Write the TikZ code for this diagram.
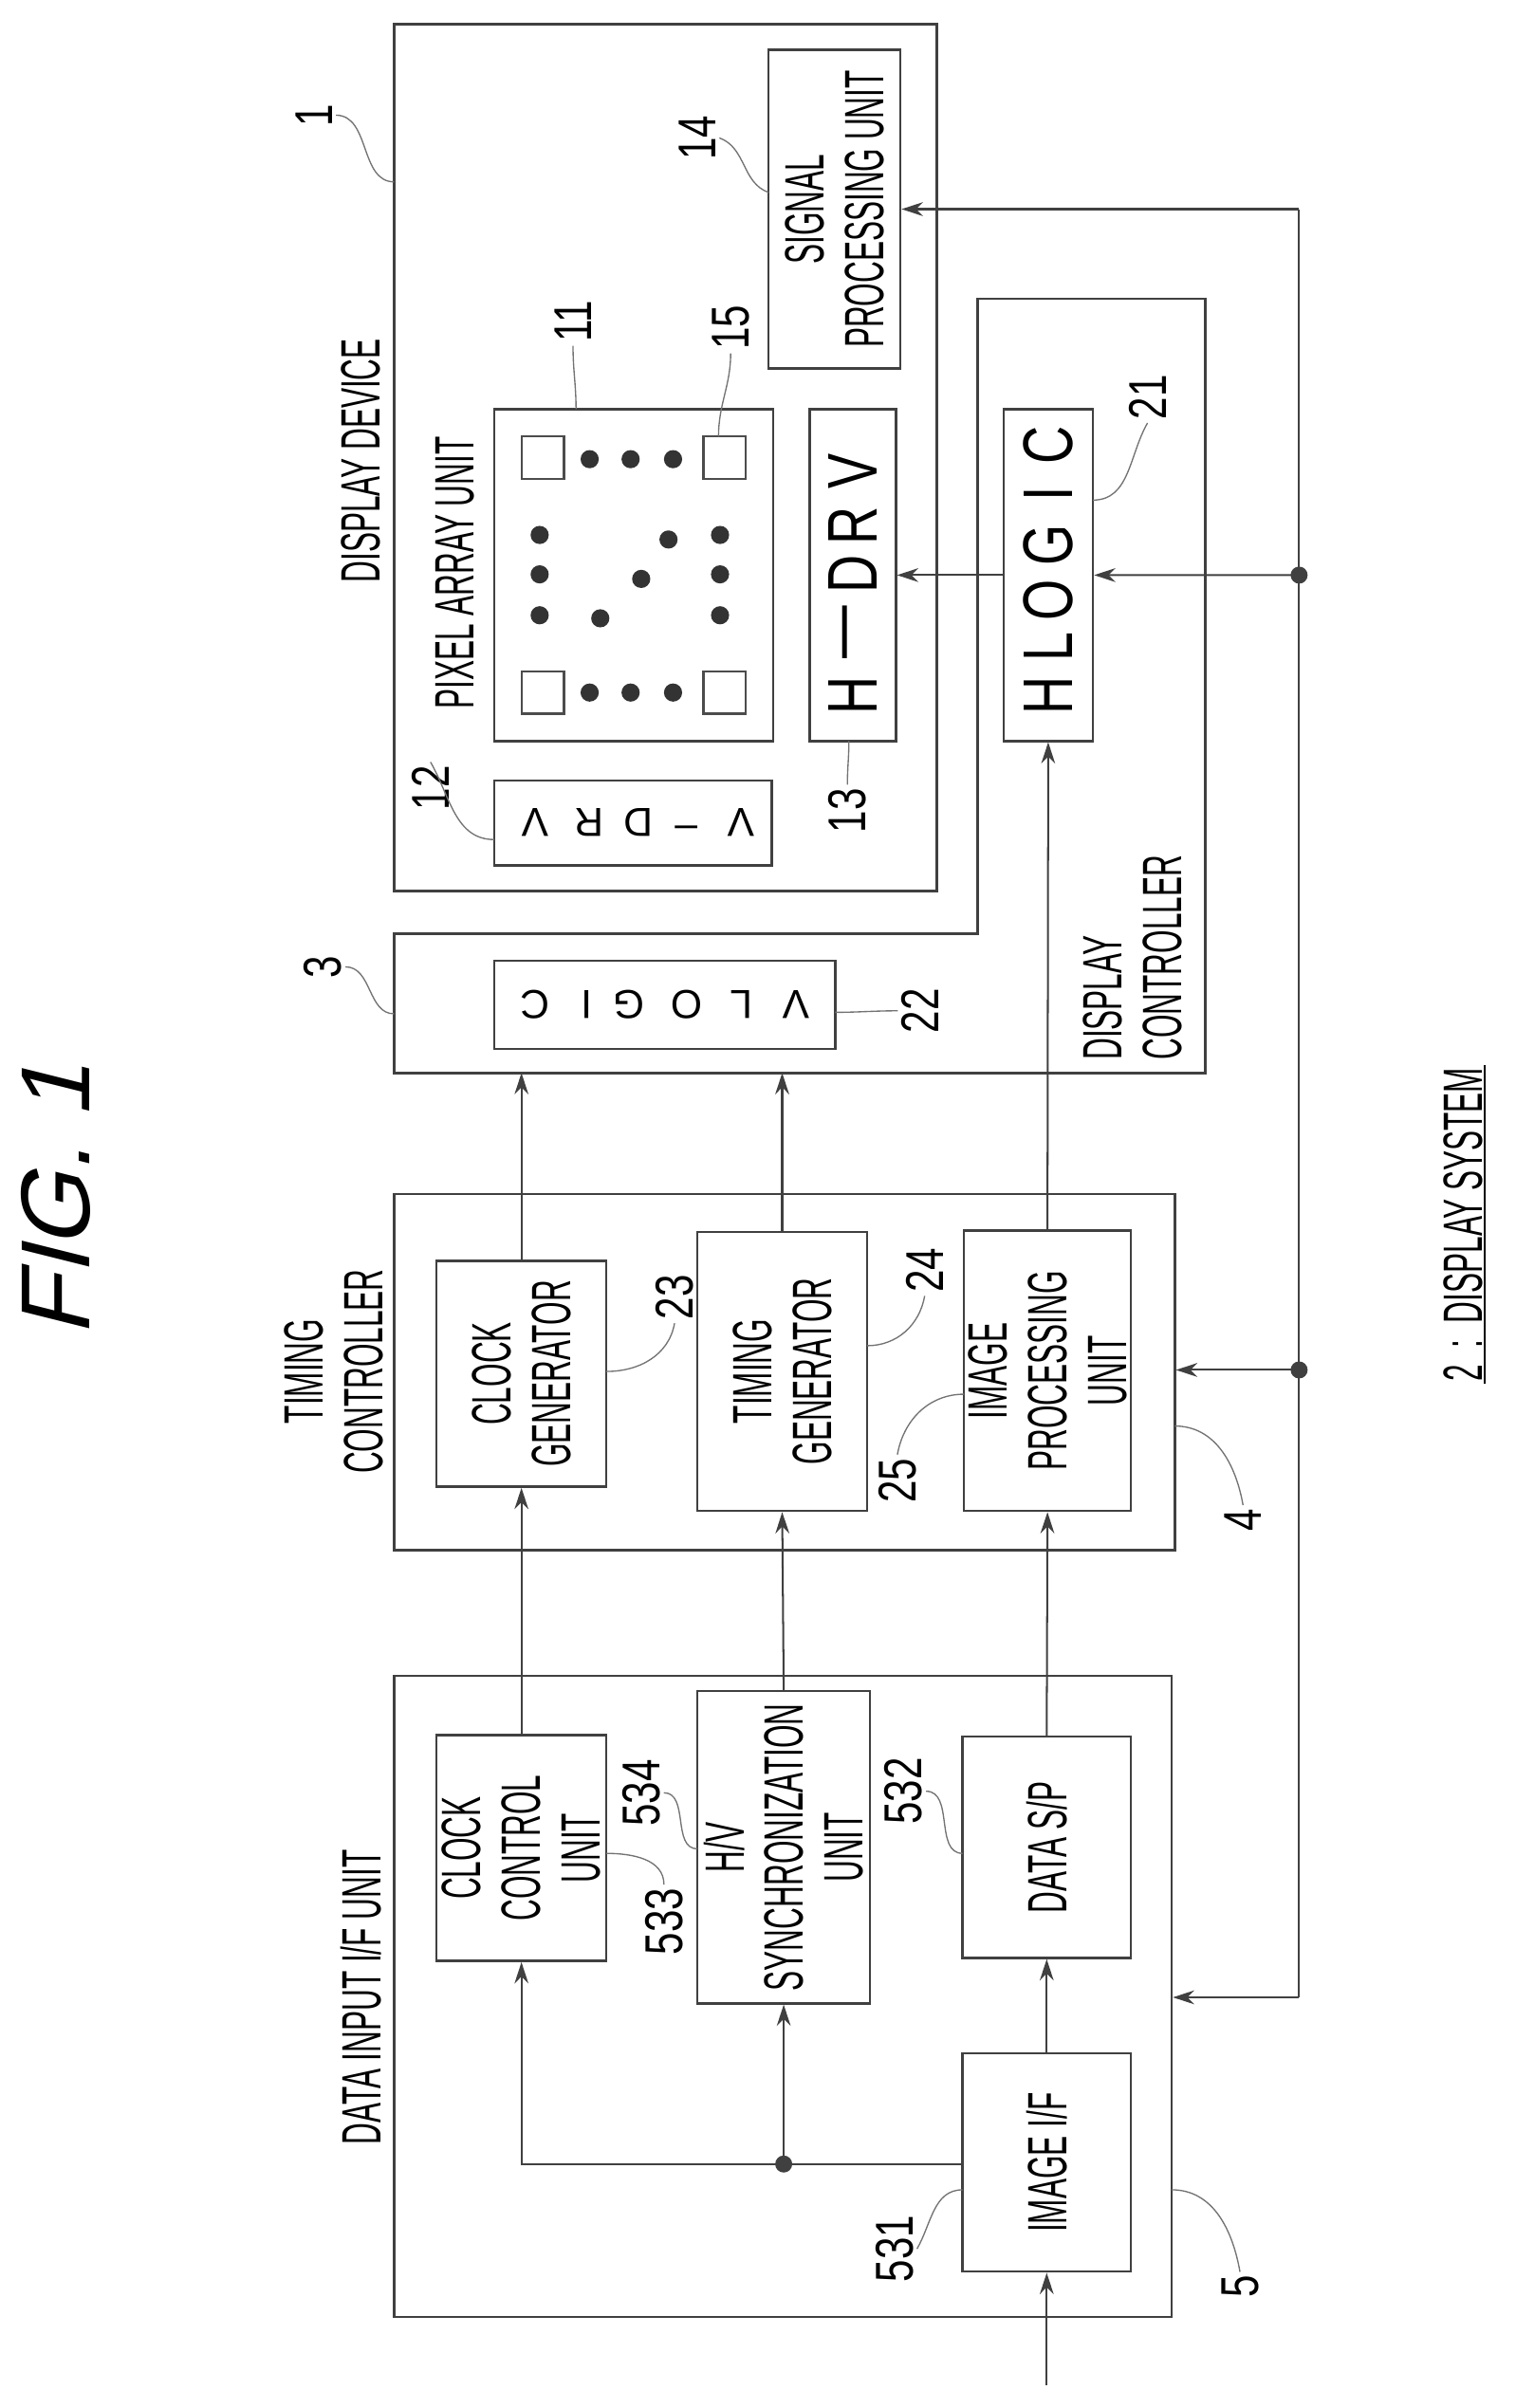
\documentclass[tikz,border=0pt]{standalone}
\usepackage{fontspec}
\setmainfont{Liberation Sans}[FakeStretch=0.54]
\newfontfamily\widef{Liberation Sans}[FakeStretch=0.75]
\newfontfamily\plainf{Liberation Sans}
\newfontfamily\figf{Liberation Sans}[FakeSlant=0.25]
\usetikzlibrary{fit,arrows.meta}
\begin{document}
\begin{tikzpicture}[x=0.05cm,y=-0.05cm,
  box/.style={draw=black!75, line width=2.2pt, inner sep=0pt},
  txt/.style={rotate=90, font=\fontsize{52}{56}\selectfont, align=center},
  lbl/.style={rotate=90, font=\widef\fontsize{50}{56}\selectfont},
  big/.style={font=\widef\fontsize{66}{70}\selectfont},
  mid/.style={font=\plainf\fontsize{38}{44}\selectfont},
  arr/.style={line width=1.8pt, draw=black!75, -{Stealth[length=20pt,width=13pt]}},
  ln/.style={line width=1.8pt, draw=black!75},
  lead/.style={draw=black!55, line width=1.2pt},
  dot/.style={circle, fill=black!75, inner sep=0pt, minimum size=16pt},
  pd/.style={circle, fill=black!80, inner sep=0pt, minimum size=0.6cm},
  sq/.style={draw=black!70, line width=2pt, inner sep=0pt, minimum size=1.4cm}]
\useasboundingbox (0,0) rectangle (1000,1589);
% outer boxes
\node[box, fit={(260,16)(618,588)}] (dd) {};
\node[box, fit={(260,788)(775,1023)}] (tc) {};
\node[box, fit={(260,1106)(773,1529)}] (di) {};
\draw[draw=black!75, line width=2.2pt] (260,616) -- (645,616) -- (645,197) -- (795,197) -- (795,708) -- (260,708) -- cycle;
\coordinate (dcbot) at (500,708);
% inner boxes
\node[box, fit={(507,33)(594,243)}] (spu) {};
\node[txt] at (spu) {SIGNAL\\PROCESSING UNIT};
\node[box, fit={(326,270)(510,489)}] (pa) {};
\node[box, fit={(326,515)(509,571)}] (vdrv) {};
\node[box, fit={(534,270)(591,489)}] (hdrv) {};
\node[box, fit={(662,270)(721,489)}] (hlogic) {};
\node[box, fit={(326,634)(551,692)}] (vlogic) {};
\node[box, fit={(288,832)(400,981)}] (cg) {};
\node[txt] at (cg) {CLOCK\\GENERATOR};
\node[box, fit={(460,813)(572,997)}] (tg) {};
\node[txt] at (tg) {TIMING\\GENERATOR};
\node[box, fit={(636,812)(746,997)}] (ipu) {};
\node[txt] at (ipu) {IMAGE\\PROCESSING\\UNIT};
\node[box, fit={(288,1145)(400,1294)}] (ccu) {};
\node[txt] at (ccu) {CLOCK\\CONTROL\\UNIT};
\node[box, fit={(460,1116)(574,1322)}] (hv) {};
\node[txt] at (hv) {H/V\\SYNCHRONIZATION\\UNIT};
\node[box, fit={(635,1146)(746,1292)}] (dsp) {};
\node[txt] at (dsp) {DATA S/P};
\node[box, fit={(635,1355)(746,1499)}] (img) {};
\node[txt] at (img) {IMAGE I/F};
% spaced letters
\foreach \c/\yy in {H/459,{\textemdash}/417,D/379,R/347,V/311} \node[big,rotate=90] at (562.5,\yy) {\c};
\foreach \c/\yy in {H/459,L/427,O/396,G/360,I/326,C/294} \node[big,rotate=90] at (691.5,\yy) {\c};
\foreach \c/\xx in {V/489,{\textendash}/453,D/421,R/389,V/353} \node[mid,rotate=180] at (\xx,543) {\c};
\foreach \c/\xx in {V/525,L/489,O/453,G/415,I/387,C/353} \node[mid,rotate=180] at (\xx,663) {\c};
% pixel array content
\foreach \p in {(358,302),(478,302),(358,457),(478,457)} \node[sq] at \p {};
\foreach \p in {(389,303),(416,303),(444,303),(389,457),(416,457),(444,457),
  (356,353),(356,379),(356,406),(475,353),(475,379),(475,406),(396,408),(423,382),(441,356)}
  \node[pd] at \p {};
% connectors
\coordinate (in) at (690.5,1574);
\draw[arr] (in) -- (img.south);
\draw[arr] (img.north) -- (dsp.south);
\coordinate (j1) at (517,1428);
\draw[ln] (j1 -| img.west) -- (j1);
\draw[arr] (j1) -- (hv.south);
\draw[arr] (j1) -| (ccu.south);
\draw[arr] (ccu.north) -- (cg.south);
\draw[arr] (hv.north) -- (tg.south);
\draw[arr] (dsp.north) -- (ipu.south);
\draw[arr] (cg.north) -- (cg.north |- dcbot);
\draw[arr] (tg.north) -- (tg.north |- dcbot);
\draw[arr] (ipu.north) -- (hlogic.south);
\draw[arr] (hlogic.west) -- (hdrv.east);
\coordinate (bt) at (857,138);
\coordinate (bb) at (857,1318);
\coordinate (jh) at (857,379.5);
\coordinate (jt) at (857,904);
\draw[arr] (bt) -- (spu.east |- bt);
\draw[ln] (bt) -- (bb);
\draw[arr] (bb) -- (di.east |- bb);
\draw[arr] (jh) -- (hlogic.east);
\draw[arr] (jt) -- (tc.east |- jt);
\node[dot] at (j1) {};
\node[dot] at (jh) {};
\node[dot] at (jt) {};
% titles
\node[font=\figf\fontsize{92}{96}\selectfont, rotate=90] (fig) at (37,792) {FIG. 1};
\node[txt] (tdd) at (238,304) {DISPLAY DEVICE};
\node[txt] (tpa) at (300,378) {PIXEL ARRAY UNIT};
\node[txt] (ttc) at (220,905) {TIMING\\CONTROLLER};
\node[txt, align=left] (tdc) at (747,632) {DISPLAY\\CONTROLLER};
\node[txt] (tdi) at (238,1318) {DATA INPUT I/F UNIT};
\node[txt, inner sep=2pt] (tds) at (965,808) {2\ \ :\ \ DISPLAY SYSTEM};
\draw[line width=1.5pt] (tds.south west) -- (tds.south east);
% reference labels and leaders
\node[lbl] (l1) at (207,76) {1};
\coordinate (e1) at (260,120); \draw[lead] (l1.south) to[out=0,in=180] (e1);
\node[lbl] (l3) at (213,638) {3};
\coordinate (e3) at (260,669); \draw[lead] (l3.south) to[out=0,in=180] (e3);
\node[lbl] (l14) at (460,91) {14};
\coordinate (e14) at (507,127); \draw[lead] (l14.south) to[out=-20,in=160] (e14);
\node[lbl] (l11) at (378,212) {11};
\coordinate (e11) at (380,270); \draw[lead] (l11.west) to[out=-90,in=90] (e11);
\node[lbl] (l15) at (482,216) {15};
\coordinate (e15) at (474,288); \draw[lead] (l15.west) to[out=-90,in=90] (e15);
\node[lbl] (l12) at (284,520) {12};
\coordinate (e12) at (326,554); \draw[lead] (l12.east) to[out=-60,in=180] (e12);
\node[lbl] (l13) at (559,535) {13};
\coordinate (e13) at (560,489); \draw[lead] (l13.east) to[out=90,in=-90] (e13);
\node[lbl] (l21) at (757,262) {21};
\coordinate (e21) at (721,330); \draw[lead] (l21.west) to[out=-120,in=0] (e21);
\node[lbl] (l22) at (607,667) {22};
\coordinate (e22) at (551,668); \draw[lead] (l22.north) to[out=180,in=0] (e22);
\node[lbl] (l23) at (445,856) {23};
\coordinate (e23) at (400,905); \draw[lead] (l23.west) to[out=-100,in=0] (e23);
\node[lbl] (l24) at (610,838) {24};
\coordinate (e24) at (572,888); \draw[lead] (l24.west) to[out=-100,in=0] (e24);
\node[lbl] (l25) at (592,977) {25};
\coordinate (e25) at (636,920); \draw[lead] (l25.east) to[out=80,in=180] (e25);
\node[lbl] (l4) at (820,1003) {4};
\coordinate (e4) at (775,941); \draw[lead] (l4.east) to[out=100,in=0] (e4);
\node[lbl] (l533) at (438,1268) {533};
\coordinate (e533) at (400,1223); \draw[lead] (l533.east) to[out=90,in=0] (e533);
\node[lbl] (l534) at (423,1183) {534};
\coordinate (e534) at (460,1220); \draw[lead] (l534.south) to[out=0,in=180] (e534);
\node[lbl] (l532) at (596,1182) {532};
\coordinate (e532) at (635,1223); \draw[lead] (l532.south) to[out=0,in=180] (e532);
\node[lbl] (l531) at (590,1484) {531};
\coordinate (e531) at (635,1445); \draw[lead] (l531.south) to[out=60,in=180] (e531);
\node[lbl] (l5) at (818,1509) {5};
\coordinate (e5) at (773,1445); \draw[lead] (l5.east) to[out=100,in=0] (e5);
\end{tikzpicture}
\end{document}
